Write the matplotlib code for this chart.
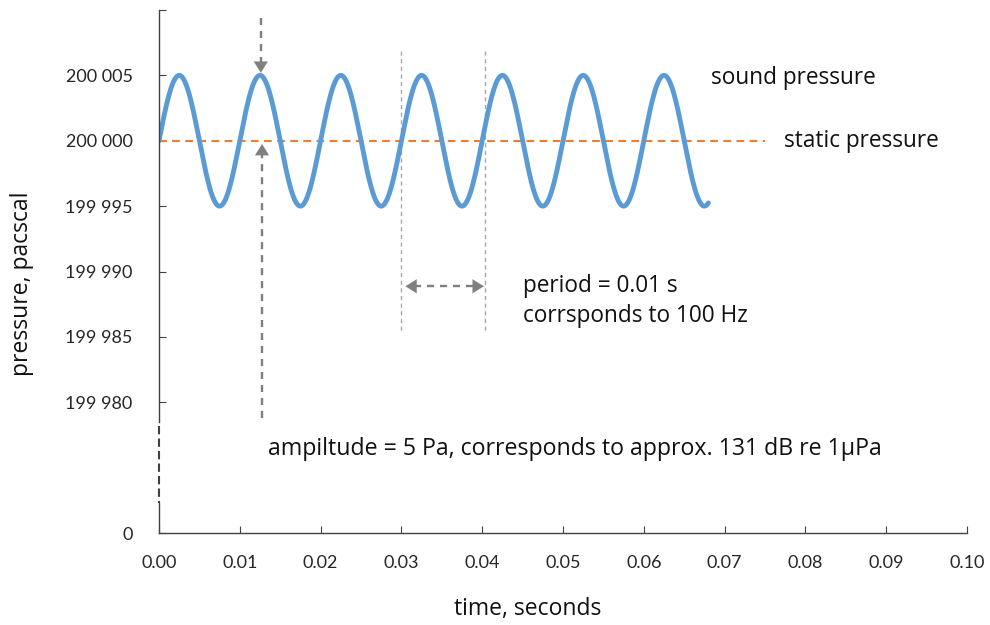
import numpy as np
import matplotlib
matplotlib.use("Agg")
import matplotlib.pyplot as plt

# ---- data ----
static_pressure = 200000.0      # Pa
amplitude = 5.0                 # Pa
period = 0.01                   # s
t_end = 0.068                   # s, end of the sound-pressure curve
static_end = 0.075              # s, end of the static-pressure line

x_ticks = [0.00, 0.01, 0.02, 0.03, 0.04, 0.05, 0.06, 0.07, 0.08, 0.09, 0.10]
x_tick_labels = ["0.00", "0.01", "0.02", "0.03", "0.04", "0.05", "0.06", "0.07", "0.08", "0.09", "0.10"]
y_ticks = [199970, 199980, 199985, 199990, 199995, 200000, 200005, 200010]
y_tick_labels = ["0", "199 980", "199 985", "199 990", "199 995", "200 000", "200 005", ""]

# curve sampled from the read parameters
t = np.linspace(0, t_end, 800)
p = static_pressure + amplitude * np.sin(2 * np.pi * t / period)

ann_font = "Open Sans"
tick_font = "Lato"

fig = plt.figure(figsize=(9.9, 6.25), dpi=100)
ax = fig.add_axes([159 / 990, 1 - 533 / 625, (967 - 159) / 990, (533 - 10) / 625])

ax.set_xlim(0, 0.10)
ax.set_ylim(199970, 200010)

blue = "#5B9BD5"
orange = "#ED7D31"
gray = "#7F7F7F"
axis_col = "#404040"

ax.plot([0, static_end], [static_pressure, static_pressure], color=orange, lw=1.5,
        dashes=(3.7, 2.6), zorder=2)
ax.plot(t, p, color=blue, lw=3.5, solid_capstyle="round", zorder=3)

# spines
for s in ["top", "right", "left"]:
    ax.spines[s].set_visible(False)
ax.spines["bottom"].set_color(axis_col)
ax.spines["bottom"].set_linewidth(1.0)

# broken left axis drawn manually
ax.plot([0, 0], [200010, 199978.5], color=axis_col, lw=1.0, clip_on=False, zorder=4)
ax.plot([0, 0], [199978.2, 199972.3], color="#404040", lw=1.5, linestyle=(0, (4, 2)),
        clip_on=False, zorder=6)
ax.plot([0, 0], [199972.3, 199970], color=axis_col, lw=1.0, clip_on=False, zorder=4)

ax.set_xticks(x_ticks)
ax.set_xticklabels(x_tick_labels)
ax.set_yticks(y_ticks)
ax.set_yticklabels(y_tick_labels)
ax.tick_params(axis="both", direction="in", length=5, color=axis_col, labelsize=13,
               labelcolor="#262626")
ax.tick_params(axis="x", pad=16)
ax.tick_params(axis="y", pad=19)
for lab in ax.get_xticklabels() + ax.get_yticklabels():
    lab.set_fontfamily(tick_font)

ax.set_xlabel("time, seconds", fontsize=16.5, family=ann_font, color="#111111")
ax.set_ylabel("pressure, pacscal", fontsize=16.5, family=ann_font, color="#111111")
ax.xaxis.set_label_coords((528 - 159) / 808, (533 - 609) / 523)
ax.xaxis.label.set_va("center")
ax.yaxis.set_label_coords((22 - 159) / 808, (533 - 284) / 523)
ax.yaxis.label.set_va("center")

# vertical period markers
for xv in [0.0300, 0.0403]:
    ax.plot([xv, xv], [200006.85, 199985.3], color="#A6A6A6", lw=1.0, dashes=(3, 2.5), zorder=1)

def head(xt, yt, xfrom, yfrom):
    ax.annotate("", xy=(xt, yt), xytext=(xfrom, yfrom),
                arrowprops=dict(arrowstyle="-|>,head_length=0.8,head_width=0.5", color=gray,
                                lw=0.1, shrinkA=0, shrinkB=0), zorder=5)

dash_kw = dict(color=gray, lw=1.7, dashes=(3, 2.5), zorder=4)
# down arrow to peak
ax.plot([0.0126, 0.0126], [200009.4, 200006.0], **dash_kw)
head(0.0126, 200005.2, 0.0126, 200006.1)
# up arrow to static line
ax.plot([0.01275, 0.01275], [199978.8, 199999.0], **dash_kw)
head(0.01275, 199999.75, 0.01275, 199998.9)
# period double arrow
ax.plot([0.0315, 0.0393], [199988.87, 199988.87], **dash_kw)
head(0.0305, 199988.87, 0.0316, 199988.87)
head(0.0402, 199988.87, 0.0391, 199988.87)

txt_kw = dict(fontsize=16.3, family=ann_font, color="#111111", va="center", ha="left")
ax.text(0.04505, 199988.9, "period = 0.01 s", **txt_kw)
ax.text(0.04505, 199986.6, "corrsponds to 100 Hz", **txt_kw)
ax.text(0.01349, 199976.45, "ampiltude = 5 Pa, corresponds to approx. 131 dB re 1\u03bcPa",
        **{**txt_kw, "fontsize": 16.7})
ax.text(0.06832, 200004.8, "sound pressure", clip_on=False, **txt_kw)
ax.text(0.07735, 200000.0, "static pressure", clip_on=False, **txt_kw)

fig.savefig("out.png", dpi=100)
